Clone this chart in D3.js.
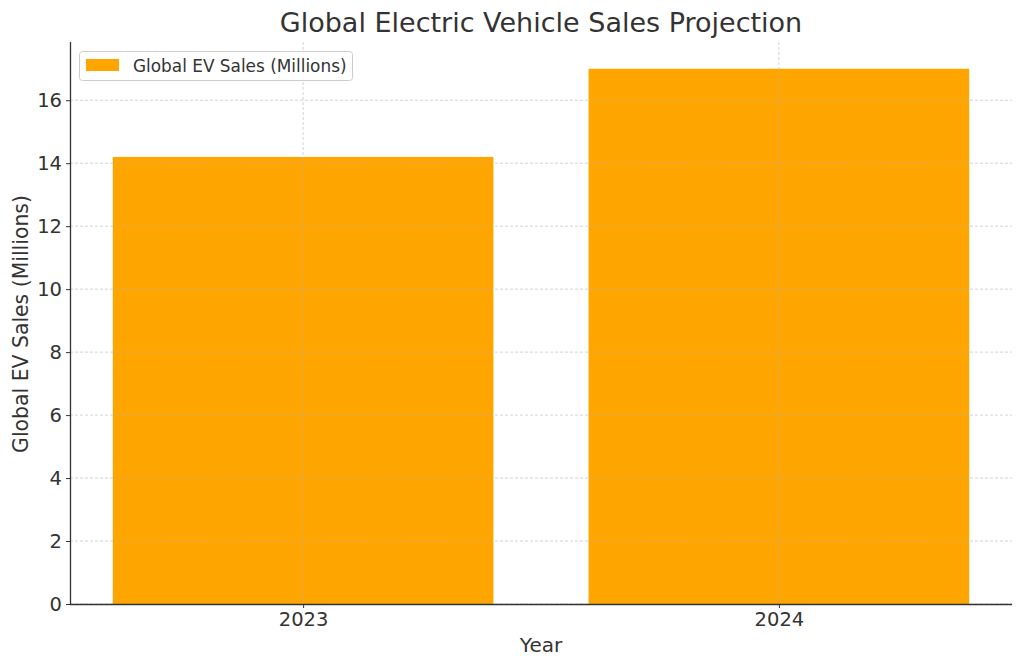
<!DOCTYPE html>
<html><head><meta charset="utf-8">
<script src="https://cdn.jsdelivr.net/npm/d3@7"></script>
<style>body{margin:0;background:#fff}svg{display:block}text{font-family:"DejaVu Sans",sans-serif;fill:#333}</style>
</head><body>
<svg id="c" width="1024" height="669"></svg>
<script>
const categories = ["2023", "2024"];
const values = [14.2, 17.0];
const yTicks = [0, 2, 4, 6, 8, 10, 12, 14, 16];
const seriesName = "Global EV Sales (Millions)";

const svg = d3.select("#c");
const L = 70, R = 1012, T = 42, B = 604;
const x = d3.scaleLinear().domain([-0.49, 1.49]).range([L, R]);
const y = d3.scaleLinear().domain([0, 17.85]).range([B, T]);
const bw = 0.8;

// bars
svg.selectAll("rect.bar").data(values).enter().append("rect")
  .attr("x", (d, i) => x(i - bw / 2))
  .attr("width", (d, i) => x(i + bw / 2) - x(i - bw / 2))
  .attr("y", d => y(d)).attr("height", d => B - y(d))
  .attr("fill", "#ffa500");

// grid
const g = svg.append("g");
yTicks.forEach(t => g.append("line").attr("x1", L).attr("x2", R).attr("y1", y(t)).attr("y2", y(t))
  .attr("stroke", "#b0b0b0").attr("stroke-opacity", 0.7).attr("stroke-dasharray", "3,2").attr("stroke-width", 0.8));
categories.forEach((c, i) => g.append("line").attr("x1", x(i)).attr("x2", x(i)).attr("y1", T).attr("y2", B)
  .attr("stroke", "#b0b0b0").attr("stroke-opacity", 0.7).attr("stroke-dasharray", "3,2").attr("stroke-width", 0.8));

// axes
const ax = d3.axisBottom(x).tickValues([0, 1]).tickFormat(i => categories[i]).tickSize(4).tickPadding(4);
const xa = svg.append("g").attr("transform", `translate(0,${B})`).call(ax);
const ay = d3.axisLeft(y).tickValues(yTicks).tickSize(4).tickPadding(4);
const ya = svg.append("g").attr("transform", `translate(${L},0)`).call(ay);
[xa, ya].forEach(a => {
  a.attr("font-size", null);
  a.select(".domain").attr("stroke", "#333").attr("stroke-width", 1.3);
  a.selectAll(".tick line").attr("stroke", "#333").attr("stroke-width", 1);
  a.selectAll(".tick text").style("font-size", "19.5px").attr("fill", "#333").style("font-family", "DejaVu Sans");
});
xa.select(".domain").attr("d", `M${L},0.5H${R}`);
ya.select(".domain").attr("d", `M0.5,${B}V${T}`);

// title & labels
svg.append("text").attr("x", (L + R) / 2).attr("y", 32).attr("text-anchor", "middle")
  .attr("font-size", 27).text("Global Electric Vehicle Sales Projection");
svg.append("text").attr("x", (L + R) / 2).attr("y", 652).attr("text-anchor", "middle")
  .attr("font-size", 20).text("Year");
svg.append("text").attr("transform", `translate(28,${(T + B) / 2 + 1}) rotate(-90)`).attr("text-anchor", "middle")
  .attr("font-size", 20.4).text("Global EV Sales (Millions)");

// legend
const lg = svg.append("g");
lg.append("rect").attr("x", 79.5).attr("y", 51.5).attr("width", 273).attr("height", 29).attr("rx", 3)
  .attr("fill", "#fff").attr("fill-opacity", 0.8).attr("stroke", "#ccc");
lg.append("rect").attr("x", 86).attr("y", 59).attr("width", 33).attr("height", 12).attr("fill", "#ffa500");
lg.append("text").attr("x", 133).attr("y", 71.5).attr("font-size", 16.9).text(seriesName);
</script>
</body></html>
